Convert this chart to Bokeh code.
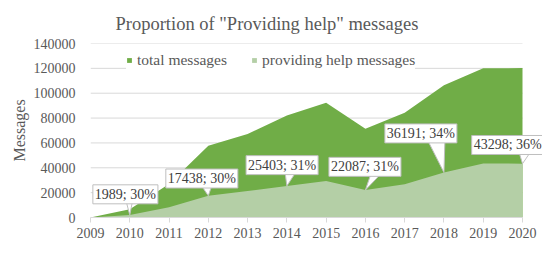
from bokeh.plotting import figure
from bokeh.models import (Range1d, FixedTicker, NumeralTickFormatter, Label, Legend, LegendItem)
from bokeh.embed import file_html
from bokeh.resources import INLINE

# ---- data ----
years = [2009, 2010, 2011, 2012, 2013, 2014, 2015, 2016, 2017, 2018, 2019, 2020]
total_messages = [0, 6630, 27000, 57700, 67200, 82000, 92300, 71500, 84200, 106500, 120000, 120272]
help_messages = [0, 1989, 8200, 17438, 21300, 25403, 29400, 22087, 26700, 36191, 43500, 43298]

label_years = [2010, 2012, 2014, 2016, 2018, 2020]
label_counts = [1989, 17438, 25403, 22087, 36191, 43298]
label_pcts = [30, 30, 31, 31, 34, 36]

y_ticks = [0, 20000, 40000, 60000, 80000, 100000, 120000, 140000]

# ---- styling / layout ----
FONT = "Liberation Serif"
DARK = "#70AD47"
LIGHT = "#B4CFA6"
TXT = "#595959"

DATA_W, EXTRA_R, FRAME_H = 432, 20, 174
X0, X1 = 2009, 2020
Y0, Y1 = 0, 140000
ux = (X1 - X0) / DATA_W
uy = (Y1 - Y0) / FRAME_H

p = figure(frame_width=DATA_W + EXTRA_R, frame_height=FRAME_H,
           x_range=Range1d(X0, X1 + EXTRA_R * ux), y_range=Range1d(Y0, Y1),
           output_backend="svg", toolbar_location=None,
           min_border_left=90, min_border_right=0, min_border_top=43, min_border_bottom=0)
p.outline_line_color = None
p.background_fill_color = "white"

p.title.text = 'Proportion of "Providing help" messages'
p.title.align = "left"
p.title.offset = 25
p.title.standoff = 19
p.title.text_font = FONT
p.title.text_font_size = "18.5px"
p.title.text_font_style = "normal"
p.title.text_color = TXT

# grid lines (only across the data span)
p.segment(x0=[X0] * len(y_ticks), x1=[X1] * len(y_ticks), y0=y_ticks, y1=y_ticks,
          line_color="#d9d9d9", line_width=1)

r_total = p.varea(x=years, y1=0, y2=total_messages, fill_color=DARK)
r_help = p.varea(x=years, y1=0, y2=help_messages, fill_color=LIGHT)

# axes
p.xaxis.ticker = FixedTicker(ticks=years)
p.yaxis.ticker = FixedTicker(ticks=y_ticks)
p.yaxis.formatter = NumeralTickFormatter(format="0")
p.axis.major_label_text_font = FONT
p.axis.major_label_text_font_size = "14px"
p.axis.major_label_text_color = TXT
p.axis.minor_tick_line_color = None
p.xaxis.bounds = (X0, X1)
p.xaxis.axis_line_color = "#d9d9d9"
p.xaxis.major_tick_line_color = "#d9d9d9"
p.xaxis.major_tick_out = 5
p.xaxis.major_tick_in = 0
p.xaxis.major_label_standoff = 5
p.yaxis.axis_line_color = None
p.yaxis.major_tick_line_color = None
p.yaxis.major_label_standoff = 9
p.yaxis.axis_label = "Messages"
p.yaxis.axis_label_text_font = FONT
p.yaxis.axis_label_text_font_size = "16px"
p.yaxis.axis_label_text_font_style = "normal"
p.yaxis.axis_label_text_color = TXT
p.yaxis.axis_label_standoff = 3

p.xgrid.grid_line_color = None
p.ygrid.grid_line_color = None

# ---- callouts ----
# per label: box offset (dx, dy) of box bottom-left from the data point, pointer base (b1, b2), in px
box_off = [(-39.4, 13.2), (-45, 9.8), (-43.3, 13.3), (-39, 15.7), (-61.6, 31.6), (-53.3, 11.2)]
ptr_base = [(-4, 3), (-8, 4), (-2, 10), (6, 17), (-17, 1), (-4, 9)]

pxs, pys = [], []
for yr, cnt, (dx, dy), (b1, b2) in zip(label_years, label_counts, box_off, ptr_base):
    top = cnt + (dy + 2) * uy
    pxs.append([yr, yr + b1 * ux, yr + b2 * ux])
    pys.append([cnt, top, top])
p.patches(pxs, pys, fill_color="white", line_color="#bfbfbf", line_width=1)

for yr, cnt, pct, (dx, dy) in zip(label_years, label_counts, label_pcts, box_off):
    lab = Label(x=yr, y=cnt, x_offset=dx + 2.5, y_offset=dy - 2,
                text=f"{cnt}; {pct}%", text_font=FONT, text_font_size="14px",
                text_color="#404040", text_align="left", text_baseline="bottom",
                background_fill_color="white", border_line_color="#bfbfbf",
                padding=2)
    p.add_layout(lab)

# legend kept inside the plot frame (top strip), horizontally aligned as in the reference
legend = Legend(items=[LegendItem(label="total messages", renderers=[r_total]),
                       LegendItem(label="providing help messages", renderers=[r_help])],
                orientation="horizontal", location=(36, FRAME_H - 26))
legend.label_text_font = FONT
legend.label_text_font_size = "15.5px"
legend.label_text_color = TXT
legend.label_height = 16
legend.glyph_width = 6
legend.glyph_height = 6
legend.label_standoff = 5
legend.spacing = 24
legend.padding = 3
legend.margin = 0
legend.border_line_color = None
legend.background_fill_color = "white"
legend.background_fill_alpha = 1
p.add_layout(legend)

open("out.html", "w").write(file_html(p, INLINE))
